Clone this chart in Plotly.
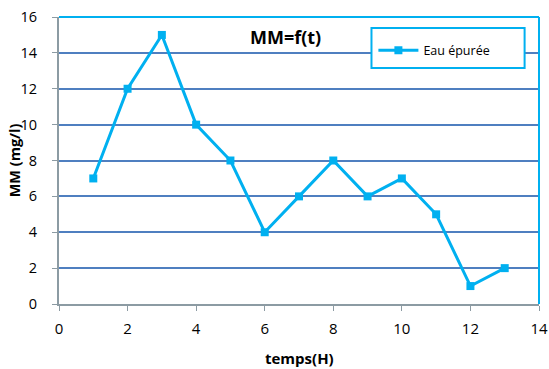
import plotly.graph_objects as go

# Suspended matter concentration over time
temps_h = [1, 2, 3, 4, 5, 6, 7, 8, 9, 10, 11, 12, 13]
mm_mg_l = [7, 12, 15, 10, 8, 4, 6, 8, 6, 7, 5, 1, 2]
serie_nom = "Eau épurée"
titre = "MM=f(t)"
titre_x = "temps(H)"
titre_y = "MM (mg/l)"

cyan = "#00B0F0"
grid_blue = "#4F7FC0"
axis_gray = "#8C9BA3"
font_fam = "'Open Sans', 'Liberation Sans', sans-serif"

fig = go.Figure()
fig.add_trace(go.Scatter(
    x=temps_h, y=mm_mg_l, name=serie_nom, mode="lines+markers",
    line=dict(color=cyan, width=3),
    marker=dict(symbol="square", size=8, color=cyan),
))

fig.update_layout(
    width=549, height=369,
    margin=dict(l=58.5, r=9.5, t=16.5, b=65, autoexpand=False),
    paper_bgcolor="white", plot_bgcolor="white",
    font=dict(family=font_fam, color="#000000", size=14),
    showlegend=True,
    legend=dict(
        x=0.655, y=0.935, xanchor="left", yanchor="top",
        bgcolor="white", borderwidth=0,
        font=dict(size=12.5, family=font_fam),
        itemwidth=40,
    ),
    xaxis=dict(
        range=[0, 14], dtick=2, tick0=0, automargin=False,
        showgrid=False, zeroline=False,
        showline=True, linecolor=axis_gray, linewidth=2,
        ticks="outside", ticklen=5, tickcolor=axis_gray, tickwidth=1,
        tickfont=dict(size=15), ticklabelstandoff=5,
    ),
    yaxis=dict(
        range=[0, 16], dtick=2, tick0=0, automargin=False,
        showgrid=True, gridcolor=grid_blue, gridwidth=1.5,
        zeroline=False,
        showline=True, linecolor=axis_gray, linewidth=2,
        ticks="outside", ticklen=5, tickcolor=axis_gray, tickwidth=1,
        tickfont=dict(size=14.5), ticklabelstandoff=12,
    ),
    shapes=[
        # top and right border of the plotting area
        dict(type="line", xref="paper", yref="paper", x0=0, x1=1, y0=1, y1=1,
             line=dict(color=cyan, width=2), layer="above"),
        dict(type="line", xref="paper", yref="paper", x0=1, x1=1, y0=0, y1=1,
             line=dict(color=cyan, width=2), layer="above"),
        # frame around the legend
        dict(type="rect", xref="paper", yref="paper",
             x0=0.651, x1=0.97, y0=0.822, y1=0.962,
             line=dict(color=cyan, width=2), fillcolor="white", layer="above"),
    ],
    annotations=[
        dict(text="<b>" + titre + "</b>", xref="paper", yref="paper",
             x=0.471, y=0.929, xanchor="center", yanchor="middle",
             showarrow=False, font=dict(size=18, family=font_fam)),
        # axis titles
        dict(text="<b>" + titre_x + "</b>", xref="paper", yref="paper",
             x=0.5, y=-0.188, xanchor="center", yanchor="middle",
             showarrow=False, font=dict(size=15, family=font_fam)),
        dict(text="<b>" + titre_y + "</b>", xref="paper", yref="paper",
             x=-0.092, y=0.5, xanchor="center", yanchor="middle",
             textangle=-90, showarrow=False, font=dict(size=14.5, family=font_fam)),
    ],
)

fig.write_html("out.html")
